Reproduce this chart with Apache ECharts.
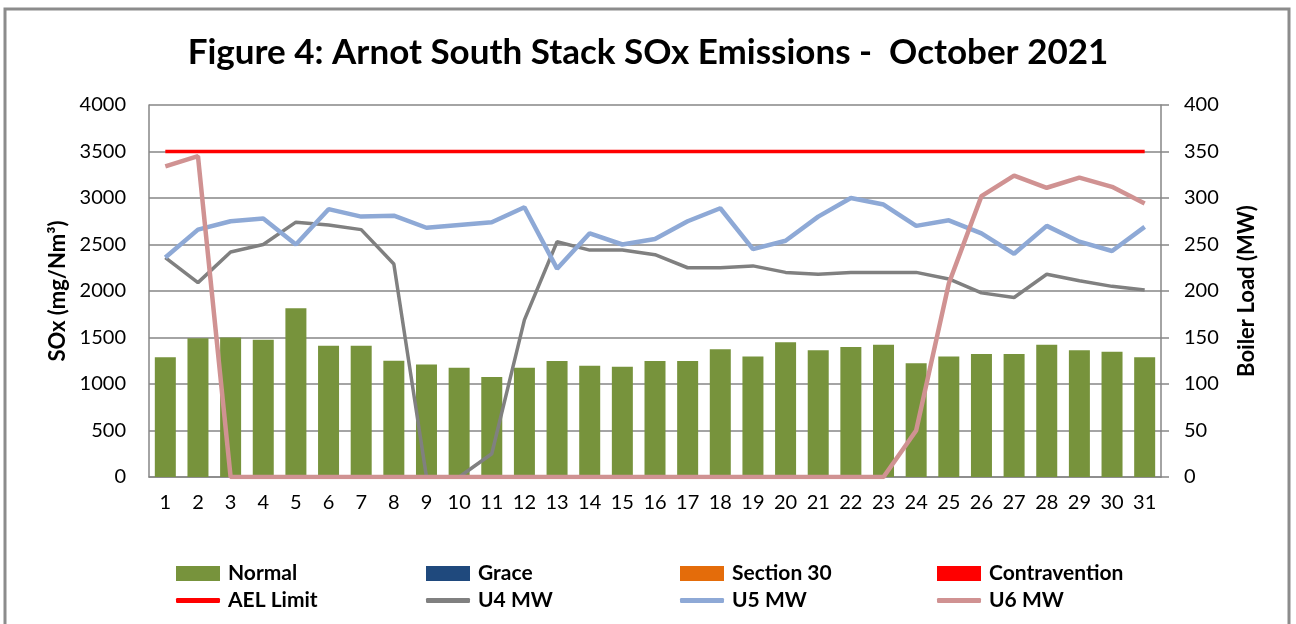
<!DOCTYPE html>
<html><head><meta charset="utf-8">
<script src="https://cdn.jsdelivr.net/npm/echarts@6/dist/echarts.min.js"></script>
<style>html,body{margin:0;padding:0;background:#fff}#c{width:1296px;height:624px}</style>
</head><body><div id="c"></div>
<script>
const days = ['1','2','3','4','5','6','7','8','9','10','11','12','13','14','15','16','17','18','19','20','21','22','23','24','25','26','27','28','29','30','31'];
const normal = [1287,1491,1500,1477,1814,1412,1412,1251,1211,1176,1075,1176,1247,1197,1186,1247,1247,1373,1297,1448,1362,1398,1423,1222,1297,1323,1323,1423,1362,1348,1287];
const grace = [];
const section30 = [];
const contravention = [];
const aelLimit = [3500,3500,3500,3500,3500,3500,3500,3500,3500,3500,3500,3500,3500,3500,3500,3500,3500,3500,3500,3500,3500,3500,3500,3500,3500,3500,3500,3500,3500,3500,3500];
const u4 = [236,209,242,250,274,271,266,229,0,0,25,169,253,244,244,239,225,225,227,220,218,220,220,220,213,198,193,218,211,205,201];
const u5 = [236,266,275,278,250,288,280,281,268,271,274,290,224,262,250,256,275,289,245,254,280,300,293,270,276,262,240,270,253,243,269];
const u6 = [334,345,0,0,0,0,0,0,0,0,0,0,0,0,0,0,0,0,0,0,0,0,0,50,208,302,324,311,322,312,294];
const leftTicks = {min:0,max:4000,interval:500};
const rightTicks = {min:0,max:400,interval:50};

const FONT = 'Lato';
const chart = echarts.init(document.getElementById('c'));
const legendBase = (name, left, top, isLine) => ({
  data:[name], left:left, top:top, orient:'horizontal', padding:0,
  itemWidth:44, itemHeight: isLine ? 5 : 15, itemGap:0,
  icon: isLine ? 'roundRect' : 'rect',
  textStyle:{fontFamily:FONT,fontWeight:'bold',fontSize:21,color:'#000',padding:[0,0,0,3]},
  selectedMode:false
});
chart.setOption({
  animation:false,
  title:{text:'Figure 4: Arnot South Stack SOx Emissions -  October 2021',left:'center',top:30,
    textStyle:{fontFamily:FONT,fontWeight:'bold',fontSize:35,color:'#000'}},
  graphic:[{type:'rect',shape:{x:5,y:9,width:1284,height:700},style:{fill:'none',stroke:'#8c8c8c',lineWidth:3}}],
  legend:[
    legendBase('Normal',176,563,false),
    legendBase('Grace',426,563,false),
    legendBase('Section 30',680,563,false),
    legendBase('Contravention',937,563,false),
    legendBase('AEL Limit',176,590,true),
    legendBase('U4 MW',426,590,true),
    legendBase('U5 MW',680,590,true),
    legendBase('U6 MW',937,590,true)
  ],
  grid:{left:149,right:135,top:105,bottom:147},
  xAxis:{type:'category',data:days,boundaryGap:true,
    axisLine:{lineStyle:{color:'#868686',width:1.5}},axisTick:{show:false},
    axisLabel:{fontFamily:FONT,fontSize:20,color:'#000',margin:16}},
  yAxis:[
    {type:'value',min:leftTicks.min,max:leftTicks.max,interval:leftTicks.interval,
      name:'SOx (mg/Nm³)',nameLocation:'middle',nameGap:80,nameRotate:90,
      nameTextStyle:{fontFamily:FONT,fontWeight:'bold',fontSize:22,color:'#000'},
      axisLine:{show:true,lineStyle:{color:'#868686',width:1.5}},axisTick:{show:false},
      axisLabel:{fontFamily:FONT,fontSize:20,color:'#000',margin:23,formatter:v=>String(v)},
      splitLine:{lineStyle:{color:'#868686',width:1.5}}},
    {type:'value',min:rightTicks.min,max:rightTicks.max,interval:rightTicks.interval,
      name:'Boiler Load (MW)',nameLocation:'middle',nameGap:75,nameRotate:90,
      nameTextStyle:{fontFamily:FONT,fontWeight:'bold',fontSize:22,color:'#000'},
      axisLine:{show:true,lineStyle:{color:'#868686',width:1.5}},
      axisTick:{show:true,length:8,lineStyle:{color:'#868686',width:1.5}},
      axisLabel:{fontFamily:FONT,fontSize:20,color:'#000',margin:23,formatter:v=>String(v)},
      splitLine:{show:false}}
  ],
  series:[
    {name:'Normal',type:'bar',stack:'s',data:normal,barWidth:21,itemStyle:{color:'#77933C'}},
    {name:'Grace',type:'bar',stack:'s',data:grace,itemStyle:{color:'#1F497D'}},
    {name:'Section 30',type:'bar',stack:'s',data:section30,itemStyle:{color:'#E46C0A'}},
    {name:'Contravention',type:'bar',stack:'s',data:contravention,itemStyle:{color:'#FF0000'}},
    {name:'AEL Limit',type:'line',data:aelLimit,yAxisIndex:0,symbol:'none',lineStyle:{color:'#FF0000',width:3.5},itemStyle:{color:'#FF0000'}},
    {name:'U4 MW',type:'line',data:u4,yAxisIndex:1,symbol:'none',lineStyle:{color:'#808080',width:3.5},itemStyle:{color:'#808080'}},
    {name:'U5 MW',type:'line',data:u5,yAxisIndex:1,symbol:'none',lineStyle:{color:'#8EA9D6',width:4.5},itemStyle:{color:'#8EA9D6'}},
    {name:'U6 MW',type:'line',data:u6,yAxisIndex:1,symbol:'none',lineStyle:{color:'#D09292',width:4.5},itemStyle:{color:'#D09292'}}
  ]
});
</script></body></html>
